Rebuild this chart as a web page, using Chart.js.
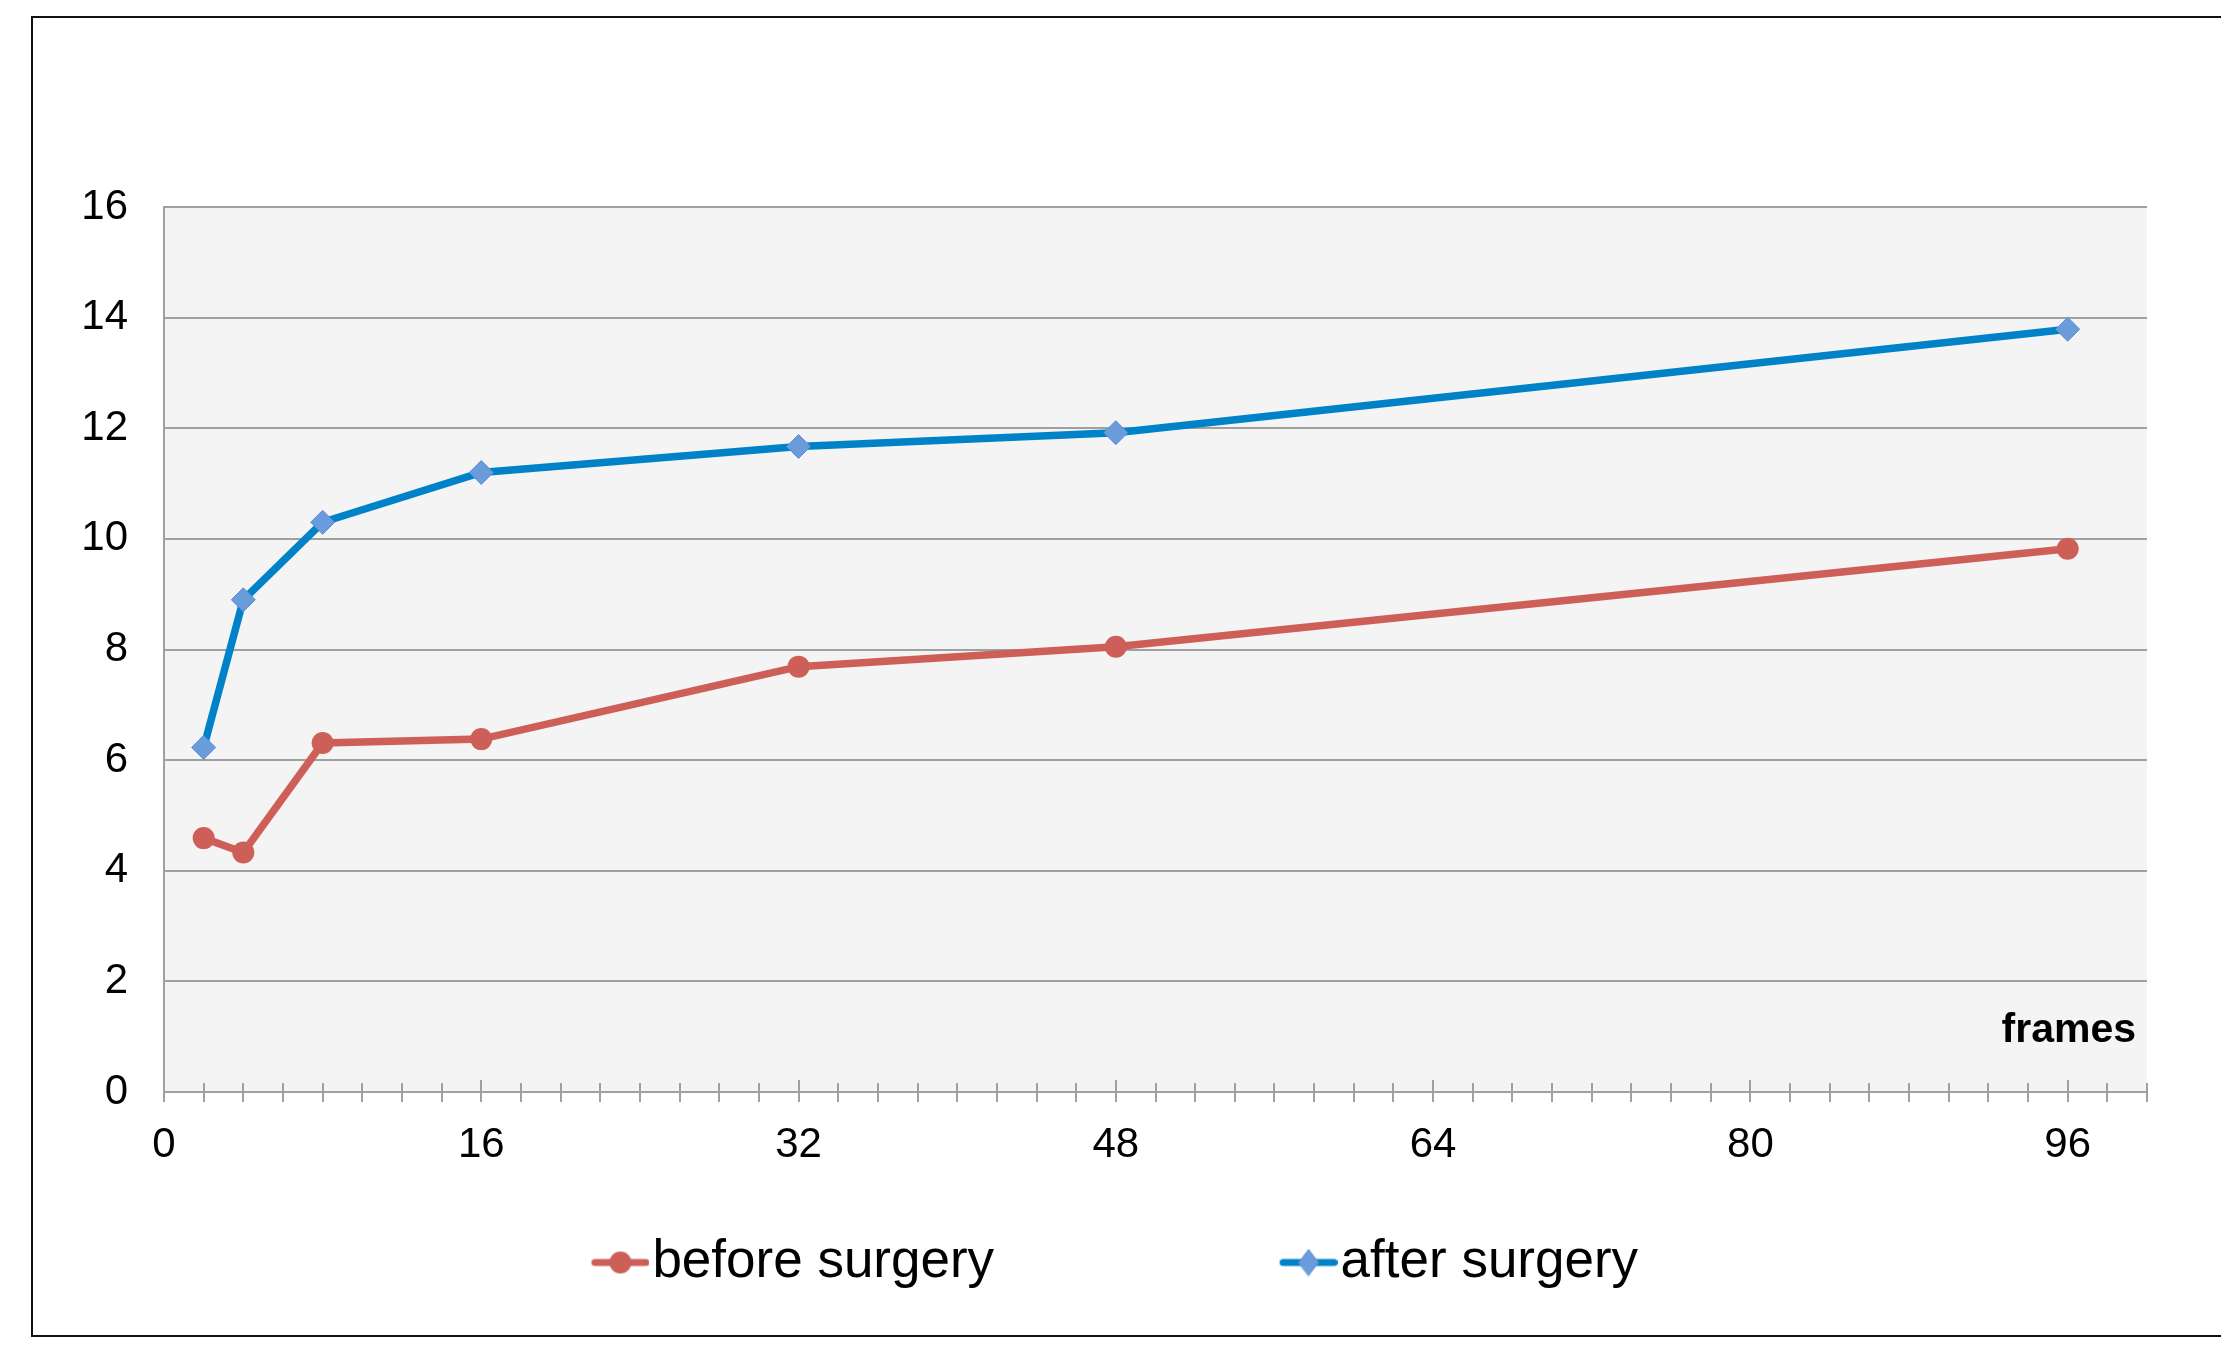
<!DOCTYPE html>
<html><head><meta charset="utf-8">
<script src="https://cdn.jsdelivr.net/npm/chart.js@4.4.1/dist/chart.umd.min.js"></script>
<style>
html,body{margin:0;padding:0;width:2221px;height:1362px;overflow:hidden;background:#fff;}
#frame{position:absolute;left:31px;top:16px;width:2300px;height:1321px;border:2px solid #111;box-sizing:border-box;}
#wrap{position:absolute;left:-193px;top:0;width:2414px;height:1362px;}
</style></head><body>
<div id="frame"></div>
<div id="wrap"><canvas id="c" width="2414" height="1362"></canvas></div>
<script>
// ---- data ----
const frames = [2, 4, 8, 16, 32, 48, 96];
const beforeSurgery = [4.59, 4.33, 6.31, 6.38, 7.69, 8.05, 9.82];
const afterSurgery = [6.23, 8.9, 10.3, 11.2, 11.67, 11.92, 13.79];
const seriesNames = ['before surgery', 'after surgery'];
const xAxisTitle = 'frames';
const xLabelStep = 16;
const xRange = [0, 100];
const yRange = [0, 16];

const FONT = "'Liberation Sans', Arial, sans-serif";
const RED = '#CD5F58';
const BLUE = '#0082C8';
const BLUE_MK = '#6A9CDC';
const GRID = '#a0a0a0';

function makeIcon(kind) {
  const c = document.createElement('canvas');
  c.width = 357; c.height = 28;
  const g = c.getContext('2d');
  const cy = 14, x0 = 299, x1 = 357, cx = (x0 + x1) / 2;
  g.strokeStyle = kind === 'circle' ? RED : BLUE;
  g.lineWidth = 7; g.lineCap = 'round';
  g.beginPath(); g.moveTo(x0 + 3.5, cy); g.lineTo(x1 - 3.5, cy); g.stroke();
  if (kind === 'circle') {
    g.fillStyle = RED; g.beginPath(); g.arc(cx, cy, 11, 0, Math.PI * 2); g.fill();
  } else {
    g.fillStyle = BLUE_MK; g.strokeStyle = '#5a8ed6'; g.lineWidth = 1;
    g.beginPath(); g.moveTo(cx - 10, cy); g.lineTo(cx, cy - 13); g.lineTo(cx + 10, cy); g.lineTo(cx, cy + 13); g.closePath(); g.fill(); g.stroke();
  }
  return c;
}
const icons = [makeIcon('circle'), makeIcon('diamond')];

const deco = {
  id: 'deco',
  beforeDraw(chart) {
    const {ctx, chartArea: a} = chart;
    ctx.save();
    ctx.fillStyle = '#f4f4f4';
    ctx.fillRect(a.left, a.top, a.right - a.left, a.bottom - a.top);
    ctx.restore();
  },
  beforeDatasetsDraw(chart) {
    const {ctx, chartArea: a, scales: {x}} = chart;
    ctx.save();
    ctx.strokeStyle = GRID; ctx.lineWidth = 2;
    x.ticks.forEach(t => {
      const px = Math.round(x.getPixelForValue(t.value));
      const len = t.value % xLabelStep === 0 ? 12 : 9;
      ctx.beginPath(); ctx.moveTo(px, a.bottom); ctx.lineTo(px, a.bottom - len); ctx.stroke();
    });
    ctx.fillStyle = '#000';
    ctx.font = 'bold 41px ' + FONT;
    ctx.textAlign = 'right'; ctx.textBaseline = 'middle';
    ctx.fillText(xAxisTitle, a.right - 11, a.bottom - 61);
    ctx.restore();
  }
};

new Chart(document.getElementById('c'), {
  type: 'line',
  data: {
    datasets: [
      {
        label: seriesNames[0],
        data: frames.map((f, i) => ({x: f, y: beforeSurgery[i]})),
        borderColor: RED, backgroundColor: RED, borderWidth: 7.5,
        pointStyle: 'circle', pointRadius: 11, pointBackgroundColor: RED,
        pointBorderColor: RED, pointBorderWidth: 0, tension: 0
      },
      {
        label: seriesNames[1],
        data: frames.map((f, i) => ({x: f, y: afterSurgery[i]})),
        borderColor: BLUE, backgroundColor: BLUE_MK, borderWidth: 7.5,
        pointStyle: 'rectRot', pointRadius: 12, pointBackgroundColor: BLUE_MK,
        pointBorderColor: '#5a8ed6', pointBorderWidth: 1, tension: 0
      }
    ]
  },
  options: {
    responsive: false, animation: false, devicePixelRatio: 1,
    layout: {padding: {top: 207, left: 0, right: 74, bottom: 63}},
    scales: {
      x: {
        type: 'linear', min: xRange[0], max: xRange[1],
        afterFit(s) { s.height = 134; },
        grid: {drawOnChartArea: false, drawTicks: true, tickLength: 10, color: GRID, lineWidth: 2},
        border: {display: true, color: GRID, width: 2},
        ticks: {
          stepSize: 2, autoSkip: false, maxRotation: 0, padding: 18, color: '#000',
          font: {family: FONT, size: 42},
          callback: v => (v % xLabelStep === 0 && v <= 96 ? String(v) : '')
        }
      },
      y: {
        min: yRange[0], max: yRange[1],
        afterFit(s) { s.width = 357; },
        grid: {color: GRID, lineWidth: 2, drawTicks: false},
        border: {display: true, color: GRID, width: 2},
        ticks: {stepSize: 2, padding: 36, color: '#000', font: {family: FONT, size: 42}}
      }
    },
    plugins: {
      tooltip: {enabled: false},
      legend: {
        position: 'bottom', align: 'center',
        labels: {
          usePointStyle: true, pointStyleWidth: 310, padding: 10, color: '#000',
          font: {family: FONT, size: 53},
          generateLabels: chart => chart.data.datasets.map((ds, i) => ({
            text: ds.label, pointStyle: icons[i], fillStyle: ds.borderColor,
            strokeStyle: ds.borderColor, lineWidth: 0, hidden: !chart.isDatasetVisible(i),
            datasetIndex: i, fontColor: '#000'
          }))
        }
      }
    }
  },
  plugins: [deco]
});
</script>
</body></html>
